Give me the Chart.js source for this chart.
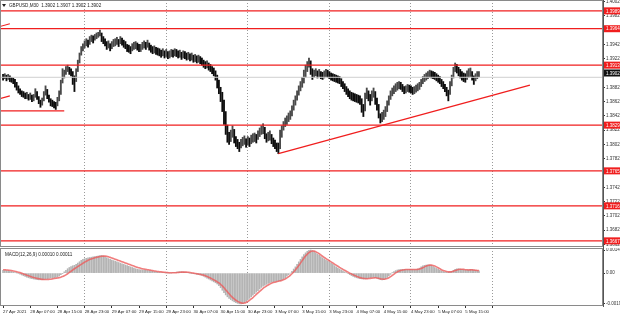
<!DOCTYPE html>
<html>
<head>
<meta charset="utf-8">
<script src="https://cdn.jsdelivr.net/npm/chart.js@4/dist/chart.umd.min.js"></script>
<style>
  html, body { margin: 0; padding: 0; background: #fff; }
  #wrap { position: relative; width: 620px; height: 316px; overflow: hidden; }
  #price { position: absolute; left: 0; top: 0; }
  #macd { position: absolute; left: 0; top: 248px; }
</style>
</head>
<body>
<div id="wrap">
  <canvas id="price" width="620" height="248"></canvas>
  <canvas id="macd" width="620" height="68"></canvas>
</div>
<script>
const symbolTitle = 'GBPUSD,M30  1.3902 1.3907 1.3902 1.3902';
const macdTitle = 'MACD(12,26,9) 0.00010 0.00011';

// bar highs / lows in pips above 1.3800 (one bar = 30 min)
const pipBase = 1.38;
const pip = 0.0001;
const barHighs = [
  100, 101, 99, 100, 98, 96, 95, 93, 89, 84,
  80, 77, 76, 74, 75, 72, 74, 71, 72, 80,
  76, 69, 64, 67, 76, 84, 79, 71, 66, 64,
  62, 61, 68, 77, 92, 108, 106, 111, 113, 110,
  108, 104, 98, 108, 120, 130, 139, 143, 147, 150,
  148, 153, 155, 154, 156, 158, 159, 162, 158, 153,
  150, 146, 147, 143, 146, 149, 150, 152, 149, 153,
  151, 148, 146, 142, 141, 139, 143, 145, 146, 144,
  142, 142, 145, 147, 145, 148, 144, 141, 139, 140,
  138, 137, 136, 134, 136, 133, 135, 132, 133, 135,
  134, 136, 135, 133, 134, 131, 133, 132, 130, 131,
  129, 130, 127, 128, 126, 127, 125, 123, 120, 118,
  119, 116, 114, 111, 109, 105, 99, 92, 82, 75,
  64, 48, 29, 19, 22, 28, 23, 13, 9, 5,
  9, 12, 14, 10, 13, 11, 15, 17, 18, 16,
  21, 25, 28, 31, 26, 17, 19, 21, 16, 11,
  8, 4, 4, 22, 28, 34, 39, 42, 46, 49,
  56, 64, 70, 77, 84, 90, 96, 106, 113, 118,
  123, 119, 108, 106, 108, 105, 107, 104, 103, 105,
  107, 106, 104, 102, 101, 100, 99, 98, 97, 94,
  90, 87, 83, 80, 77, 75, 74, 73, 72, 71,
  70, 66, 58, 74, 81, 77, 72, 77, 81, 76,
  67, 58, 45, 47, 50, 55, 63, 70, 77, 81,
  84, 87, 89, 90, 89, 86, 83, 84, 86, 85,
  84, 82, 83, 85, 87, 89, 93, 97, 100, 102,
  104, 106, 105, 104, 103, 101, 99, 97, 93, 90,
  86, 82, 78, 90, 99, 110, 116, 114, 110, 107,
  104, 102, 101, 105, 108, 109, 104, 98, 101, 104,
  104
];
const barLows = [
  92, 94, 91, 93, 90, 89, 87, 82, 78, 74,
  72, 69, 68, 66, 66, 64, 65, 62, 63, 68,
  65, 59, 54, 57, 63, 71, 66, 61, 56, 55,
  53, 51, 56, 63, 72, 88, 95, 100, 104, 100,
  98, 86, 76, 90, 104, 116, 127, 133, 137, 140,
  138, 142, 146, 144, 148, 150, 152, 154, 146, 143,
  140, 135, 137, 133, 136, 139, 140, 142, 139, 143,
  141, 138, 136, 132, 131, 129, 133, 135, 136, 134,
  132, 132, 135, 137, 135, 138, 134, 131, 129, 130,
  128, 127, 126, 124, 126, 123, 125, 122, 123, 125,
  124, 126, 125, 123, 124, 121, 123, 122, 120, 121,
  119, 120, 117, 118, 116, 117, 115, 113, 110, 108,
  109, 106, 104, 101, 98, 92, 81, 73, 62, 48,
  30, 16, 5, 2, 6, 12, 4, -1, -4, -8,
  -3, 0, 2, -2, 1, -1, 3, 5, 6, 4,
  9, 13, 16, 17, 10, 5, 7, 8, 3, -1,
  -4, -8, -11, -4, 12, 22, 27, 30, 34, 37,
  42, 50, 57, 64, 71, 77, 82, 88, 96, 104,
  110, 100, 93, 96, 98, 95, 97, 94, 93, 95,
  97, 96, 94, 92, 91, 90, 89, 88, 87, 83,
  80, 76, 72, 69, 66, 64, 63, 62, 61, 60,
  58, 47, 41, 49, 66, 63, 57, 63, 68, 58,
  50, 39, 32, 34, 37, 41, 48, 57, 65, 70,
  73, 76, 78, 80, 79, 76, 73, 74, 76, 75,
  74, 72, 73, 75, 77, 79, 83, 87, 90, 92,
  94, 96, 95, 94, 93, 91, 89, 87, 83, 80,
  76, 70, 63, 72, 84, 95, 104, 102, 98, 95,
  92, 90, 89, 93, 96, 97, 92, 86, 91, 94,
  97
];

// MACD main (histogram) and signal, in units of 0.00001
const macdHist = [
  18, 17, 16, 14, 12, 10, 7, 4, 1, -3,
  -7, -12, -17, -22, -26, -30, -33, -36, -38, -40,
  -42, -43, -43, -42, -40, -38, -36, -34, -32, -30,
  -29, -27, -24, -18, -10, -2, 8, 18, 28, 36,
  42, 47, 50, 56, 64, 73, 82, 88, 92, 95,
  98, 100, 102, 104, 106, 108, 110, 112, 113, 110,
  105, 99, 93, 88, 84, 80, 76, 72, 68, 64,
  60, 56, 52, 48, 44, 40, 36, 32, 28, 25,
  23, 21, 20, 19, 18, 17, 16, 14, 12, 10,
  8, 6, 5, 4, 3, 2, 1, 1, 0, 0,
  2, 4, 6, 8, 9, 9, 8, 6, 4, 2,
  0, -2, -4, -6, -8, -10, -12, -15, -20, -26,
  -32, -38, -44, -50, -56, -62, -70, -80, -94, -110,
  -126, -140, -152, -162, -170, -178, -184, -190, -194, -197,
  -198, -196, -190, -182, -172, -162, -152, -142, -132, -122,
  -112, -102, -92, -84, -78, -72, -66, -62, -58, -56,
  -54, -52, -50, -48, -44, -38, -30, -20, -10, 0,
  12, 26, 40, 56, 72, 88, 104, 118, 130, 140,
  146, 148, 144, 138, 130, 122, 114, 106, 98, 90,
  84, 78, 72, 64, 56, 48, 40, 33, 26, 20,
  14, 8, 2, -4, -10, -16, -21, -26, -30, -33,
  -35, -37, -38, -38, -36, -33, -30, -28, -27, -28,
  -32, -38, -42, -44, -42, -36, -28, -18, -8, 2,
  10, 16, 20, 22, 23, 24, 24, 23, 23, 24,
  24, 23, 22, 23, 26, 32, 40, 46, 50, 52,
  53, 52, 48, 42, 36, 30, 24, 18, 14, 10,
  7, 6, 6, 8, 12, 18, 24, 27, 28, 26,
  24, 22, 20, 19, 21, 23, 22, 19, 17, 16,
  15
];
const macdSignal = [
  22, 21, 20, 19, 18, 16, 14, 12, 9, 6,
  3, -1, -5, -9, -13, -17, -21, -25, -28, -31,
  -34, -36, -38, -40, -41, -41, -41, -40, -39, -37,
  -35, -33, -31, -29, -26, -22, -17, -11, -4, 4,
  12, 20, 28, 35, 42, 49, 56, 63, 70, 76,
  82, 87, 91, 95, 98, 101, 104, 106, 108, 109,
  109, 108, 105, 101, 97, 93, 89, 85, 81, 77,
  73, 69, 65, 61, 57, 53, 49, 45, 41, 37,
  34, 31, 28, 26, 24, 22, 20, 18, 16, 14,
  12, 10, 9, 8, 6, 5, 4, 3, 2, 2,
  2, 2, 3, 4, 5, 6, 6, 6, 6, 5,
  4, 2, 0, -2, -4, -6, -8, -10, -13, -17,
  -21, -26, -31, -37, -43, -49, -56, -63, -72, -82,
  -94, -107, -120, -133, -145, -156, -166, -174, -181, -187,
  -191, -193, -192, -188, -182, -175, -166, -157, -147, -137,
  -127, -117, -107, -98, -90, -83, -76, -70, -65, -61,
  -58, -55, -52, -50, -47, -43, -38, -31, -23, -14,
  -4, 7, 20, 34, 49, 64, 80, 95, 109, 122,
  132, 139, 142, 141, 137, 131, 124, 116, 108, 100,
  93, 86, 79, 72, 65, 58, 51, 44, 37, 30,
  24, 18, 12, 6, 0, -5, -11, -16, -21, -25,
  -29, -32, -34, -35, -36, -35, -34, -32, -31, -30,
  -31, -33, -36, -38, -39, -38, -35, -30, -23, -15,
  -7, 1, 8, 13, 17, 20, 22, 23, 23, 23,
  23, 23, 23, 23, 24, 26, 29, 34, 40, 45,
  49, 51, 51, 49, 45, 40, 34, 28, 22, 17,
  13, 10, 8, 8, 9, 12, 16, 20, 23, 25,
  25, 24, 22, 21, 20, 21, 21, 20, 18, 17,
  16
];

const levels = [1.3989, 1.3964, 1.3913, 1.3829, 1.3765, 1.3716, 1.3667];
const currentPrice = 1.3902;
const bidLine = 1.3896;
const trendLine = [[162, 1.3789], [310, 1.3885]];
const oldLines = [
  [[-2, 1.3849], [36, 1.3849]],
  [[-2, 1.3866], [4, 1.3870]],
  [[-2, 1.3967], [4, 1.3971]]
];

const priceTicks = [1.4002, 1.3982, 1.3962, 1.3942, 1.3922, 1.3902, 1.3882, 1.3862, 1.3842,
  1.3822, 1.3802, 1.3782, 1.3762, 1.3742, 1.3722, 1.3702, 1.3682, 1.3662];
const macdTicks = [0.00148, 0, -0.00198];
const xTickBars = [0, 16, 32, 48, 64, 80, 96, 112, 128, 144, 160, 176, 192, 208, 224, 240, 256, 272, 288];
const xTickLabels = ['27 Apr 2021', '28 Apr 07:00', '28 Apr 15:00', '28 Apr 23:00', '29 Apr 07:00',
  '29 Apr 15:00', '29 Apr 23:00', '30 Apr 07:00', '30 Apr 15:00', '30 Apr 23:00', '3 May 07:00',
  '3 May 15:00', '3 May 23:00', '4 May 07:00', '4 May 15:00', '4 May 23:00', '5 May 07:00',
  '5 May 15:00', ''];
const separatorBars = [48, 96, 144, 192, 240, 288];
const xMin = -1.8, xMax = 353;

const FONT = "'Liberation Sans', Arial, sans-serif";
const RED = '#f01e1e';

// ---- shared x axis
function xAxis(showLabels) {
  return {
    type: 'linear', min: xMin, max: xMax, offset: false,
    afterBuildTicks: s => { s.ticks = xTickBars.map(v => ({ value: v })); },
    afterFit: s => { s.height = showLabels ? 10 : 0; s.paddingLeft = 0; s.paddingRight = 0; },
    grid: {
      offset: false,
      drawTicks: showLabels, tickLength: 2, tickColor: '#333',
      color: c => (c.tick && separatorBars.includes(c.tick.value)) ? '#9a9a9a' : 'rgba(0,0,0,0)',
      lineWidth: 1
    },
    border: { display: false, dash: [1, 2] },
    ticks: {
      display: showLabels, autoSkip: false, maxRotation: 0, align: 'start', padding: 1,
      color: '#222', font: { family: FONT, size: 4.3 },
      callback: v => { const k = xTickBars.indexOf(v); return k < 0 ? '' : xTickLabels[k]; }
    }
  };
}

function yAxisRight(min, max, tickList, fmt) {
  return {
    position: 'right', min: min, max: max, beginAtZero: false,
    afterBuildTicks: s => { s.ticks = tickList.map(v => ({ value: v })); },
    afterFit: s => { s.width = 17; s.paddingTop = 0; s.paddingBottom = 0; },
    grid: { drawOnChartArea: false, drawTicks: true, tickLength: 2, color: '#333' },
    border: { display: true, color: '#555', width: 1 },
    ticks: { autoSkip: false, padding: 1, color: '#333', font: { family: FONT, size: 4.5 }, callback: fmt }
  };
}

// ---- frame + texts
const frame = {
  id: 'frame',
  afterDraw(chart) {
    const { ctx, chartArea: a } = chart;
    ctx.save();
    ctx.strokeStyle = '#8a8a8a';
    ctx.lineWidth = 1;
    ctx.strokeRect(a.left + 0.5, a.top + 0.5, a.right - a.left - 1, a.bottom - a.top - 1);
    ctx.restore();
  }
};

const priceLabels = {
  id: 'priceLabels',
  afterDraw(chart) {
    const { ctx, chartArea: a, scales: { y } } = chart;
    ctx.save();
    ctx.font = '4.5px ' + FONT;
    ctx.textBaseline = 'middle';
    const box = (v, bg) => {
      const py = y.getPixelForValue(v);
      ctx.fillStyle = bg;
      ctx.fillRect(a.right + 1, py - 3.5, 619 - a.right, 7);
      ctx.fillStyle = '#fff';
      ctx.fillText(v.toFixed(4), a.right + 3, py + 0.5);
    };
    levels.forEach(v => box(v, RED));
    box(currentPrice, '#111');
    // symbol title
    ctx.fillStyle = '#222';
    ctx.beginPath();
    ctx.moveTo(a.left + 2, a.top + 4); ctx.lineTo(a.left + 6, a.top + 4); ctx.lineTo(a.left + 4, a.top + 7);
    ctx.fill();
    ctx.font = '4.6px ' + FONT;
    ctx.fillText(symbolTitle, a.left + 9, a.top + 6);
    ctx.restore();
  }
};

const macdLabel = {
  id: 'macdLabel',
  afterDraw(chart) {
    const { ctx, chartArea: a } = chart;
    ctx.save();
    ctx.font = '4.6px ' + FONT;
    ctx.fillStyle = '#222';
    ctx.textBaseline = 'middle';
    ctx.fillText(macdTitle, a.left + 5, a.top + 7);
    ctx.restore();
  }
};

// ---- price chart
const priceBars = barHighs.map((h, i) => ({ x: i, y: [pipBase + barLows[i] * pip, pipBase + h * pip] }));
const barColors = barHighs.map((h, i) => {
  if (i === 0) return '#111';
  return (h + barLows[i]) >= (barHighs[i - 1] + barLows[i - 1]) ? '#4a4a4a' : '#0d0d0d';
});

const lineSet = (pts, color, width) => ({
  type: 'line',
  data: pts.map(p => ({ x: p[0], y: p[1] })),
  borderColor: color, borderWidth: width, pointRadius: 0, fill: false, tension: 0, order: 0
});

const priceSets = [
  { type: 'bar', data: priceBars, backgroundColor: barColors, barThickness: 1.2, grouped: false, order: 1 },
  lineSet([[xMin, bidLine], [xMax, bidLine]], '#cfcfcf', 1),
  ...levels.map(v => lineSet([[xMin, v], [xMax, v]], RED, 1.3)),
  lineSet(trendLine, RED, 1.3),
  ...oldLines.map(l => lineSet(l, RED, 1.1))
];

new Chart(document.getElementById('price'), {
  type: 'bar',
  data: { datasets: priceSets },
  options: {
    responsive: false, animation: false, maintainAspectRatio: false,
    layout: { padding: { left: 0, top: 0, right: 0, bottom: 1 } },
    plugins: { legend: { display: false }, tooltip: { enabled: false } },
    scales: {
      x: xAxis(false),
      y: yAxisRight(1.36584, 1.40042, priceTicks, v => v.toFixed(4))
    }
  },
  plugins: [frame, priceLabels]
});

// ---- MACD chart
new Chart(document.getElementById('macd'), {
  type: 'bar',
  data: {
    datasets: [
      { type: 'bar', data: macdHist.map((v, i) => ({ x: i, y: v * 0.00001 })),
        backgroundColor: '#b4b4b4', barThickness: 1, order: 1 },
      { type: 'line', data: macdSignal.map((v, i) => ({ x: i, y: v * 0.00001 })),
        borderColor: 'rgba(236,92,92,0.8)', borderWidth: 1.6, pointRadius: 0, tension: 0.3, order: 0 }
    ]
  },
  options: {
    responsive: false, animation: false, maintainAspectRatio: false,
    layout: { padding: 0 },
    plugins: { legend: { display: false }, tooltip: { enabled: false } },
    scales: {
      x: xAxis(true),
      y: yAxisRight(-0.00211, 0.00161, macdTicks, v => v === 0 ? '0.00' : v.toFixed(5))
    }
  },
  plugins: [frame, macdLabel]
});
</script>
</body>
</html>
